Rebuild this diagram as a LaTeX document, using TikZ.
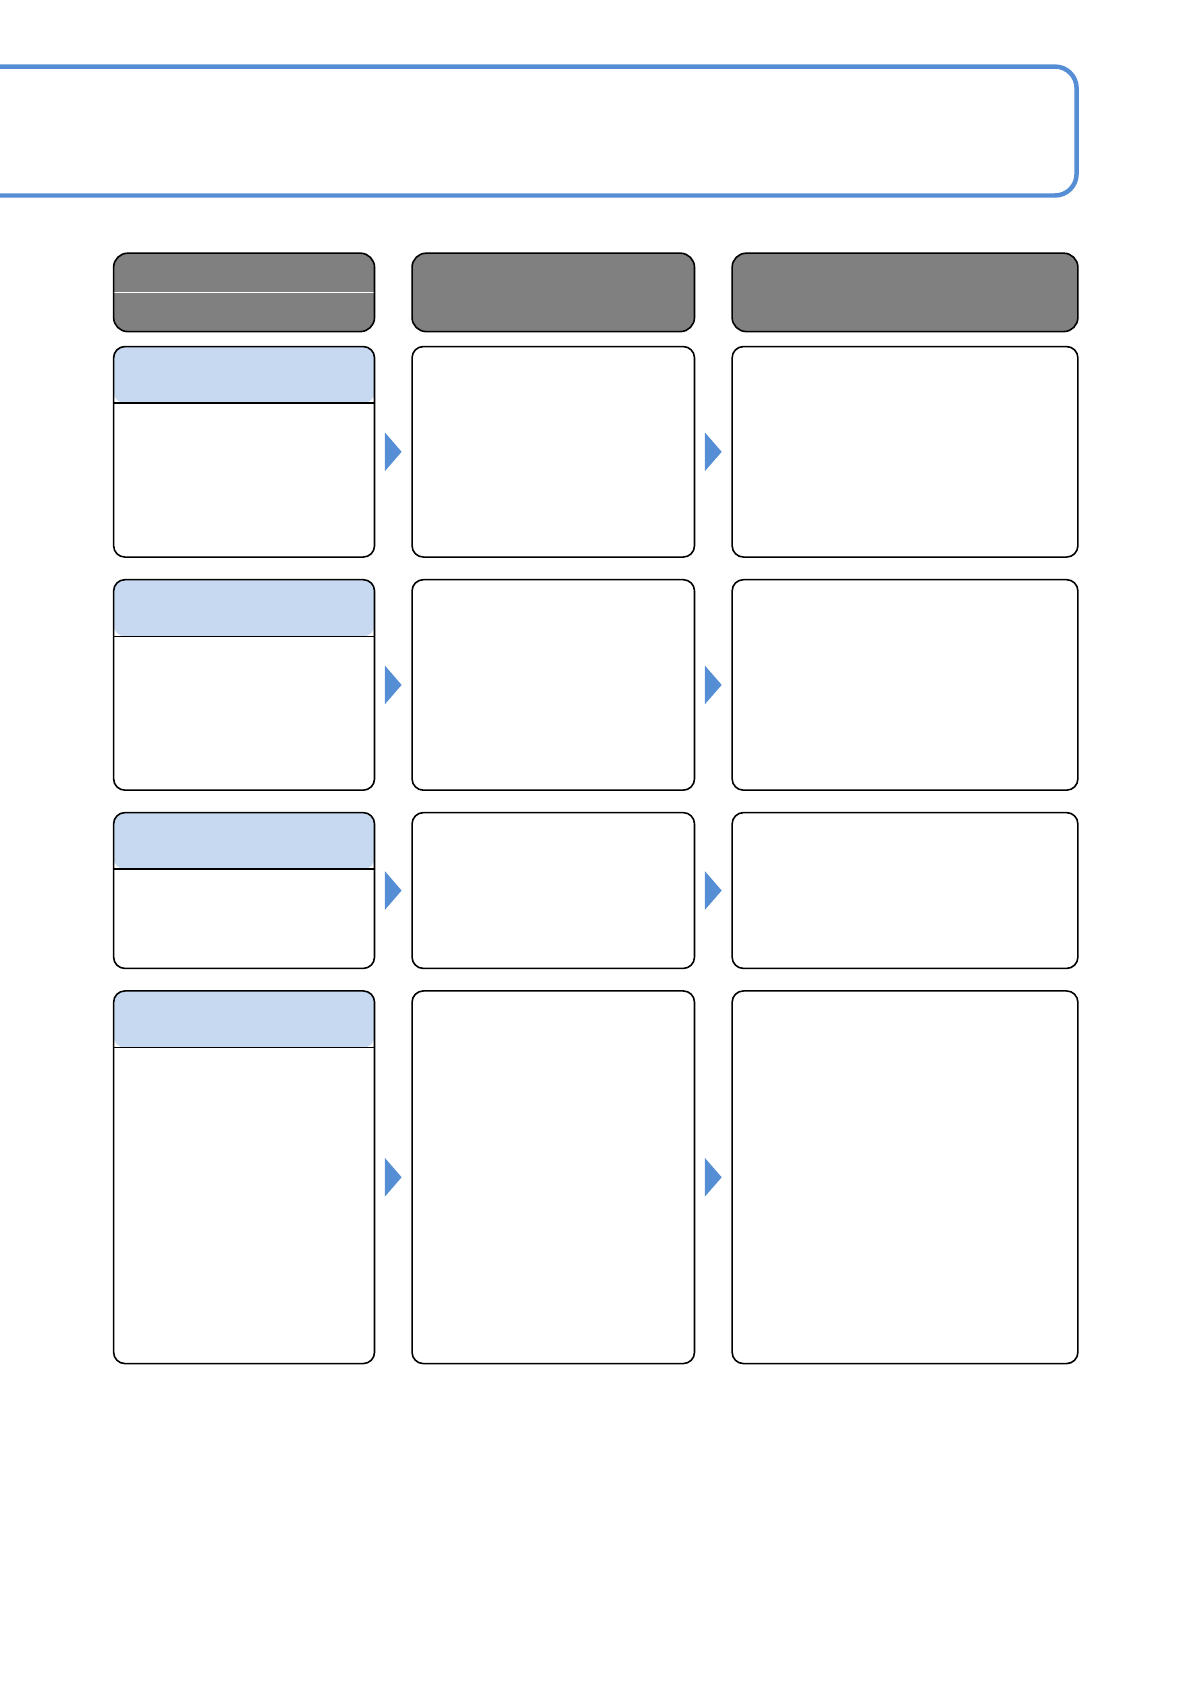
\documentclass[tikz,border=0pt]{standalone}
\definecolor{bannerblue}{HTML}{558ED5}
\definecolor{hdrgray}{HTML}{808080}
\definecolor{bandblue}{HTML}{C6D9F1}
\begin{document}
\begin{tikzpicture}[y=-1cm, line width=0.8pt,
  box/.style={draw, rounded corners=0.2cm, anchor=north west, inner sep=0pt, minimum height=#1},
  hdr/.style={draw, fill=hdrgray, rounded corners=0.25cm, anchor=north west, inner sep=0pt, minimum height=1.384cm},
  stagebox/.style={box=#1, path picture={
      \fill[bandblue] (path picture bounding box.north west) rectangle ([yshift=-1cm]path picture bounding box.north east);
      \draw ([yshift=-1cm]path picture bounding box.north west) -- ([yshift=-1cm]path picture bounding box.north east);}},
  tri/.style={fill=bannerblue}]
  \useasboundingbox (0,0) rectangle (21,29.72);
  % banner, open on the left
  \coordinate (btop) at (0,1.175); \coordinate (bbot) at (0,3.450);
  \draw[bannerblue, line width=2.25pt, rounded corners=0.38cm] (btop) -- (19.0,1.175) -- (19.0,3.450) -- (bbot);
  % column heads
  \node[hdr, minimum width=4.605cm, path picture={\draw[white, line width=0.5pt] (path picture bounding box.west) -- (path picture bounding box.east);}] (h1) at (1.991,4.454) {};
  \node[hdr, minimum width=4.985cm] (h2) at (7.258,4.454) {};
  \node[hdr, minimum width=6.102cm] (h3) at (12.907,4.454) {};
  % rows
  \foreach \n/\y/\h in {1/6.102/3.715cm, 2/10.216/3.715cm, 3/14.327/2.75cm, 4/17.474/6.577cm} {
    \node[stagebox=\h, minimum width=4.605cm] (s\n) at (1.991,\y) {};
    \node[box=\h, minimum width=4.985cm] (m\n) at (7.258,\y) {};
    \node[box=\h, minimum width=6.102cm] (r\n) at (12.907,\y) {};
    \fill[tri] ([xshift=0.17cm, yshift=0.34cm]s\n.east) -- ([xshift=0.17cm, yshift=-0.34cm]s\n.east) -- ([xshift=-0.17cm]m\n.west) -- cycle;
    \fill[tri] ([xshift=0.17cm, yshift=0.34cm]m\n.east) -- ([xshift=0.17cm, yshift=-0.34cm]m\n.east) -- ([xshift=-0.17cm]r\n.west) -- cycle;
  }
\end{tikzpicture}
\end{document}
